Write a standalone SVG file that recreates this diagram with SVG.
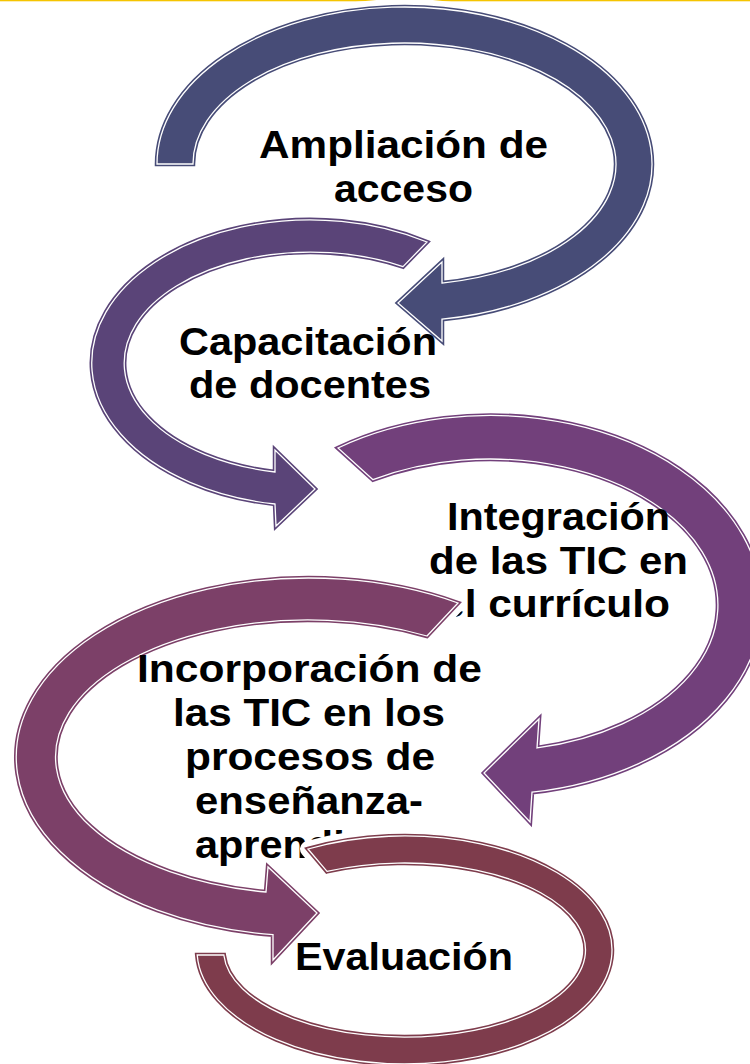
<svg xmlns="http://www.w3.org/2000/svg" xmlns:xlink="http://www.w3.org/1999/xlink" width="750" height="1064" viewBox="0 0 750 1064">
<style>
.t{font-family:"Liberation Sans",Arial,sans-serif;font-weight:bold;font-size:38px;fill:#000}
.h{fill:#fff;stroke:#fff;stroke-width:16;stroke-linejoin:round}
.o{stroke-width:4.5;stroke-linejoin:miter}
.i{stroke:#fff;stroke-width:1.3;stroke-linejoin:miter}
.c1{fill:#474C77;stroke:#474C77}
.c2{fill:#5A4478;stroke:#5A4478}
.c3{fill:#72407B;stroke:#72407B}
.c4{fill:#7C4068;stroke:#7C4068}
.c5{fill:#7E3C4C;stroke:#7E3C4C}
.f1{fill:#474C77}.f2{fill:#5A4478}.f3{fill:#72407B}.f4{fill:#7C4068}.f5{fill:#7E3C4C}
</style>
<defs>
<path id="a1" d="M157,164 A247.5,157 0 1 1 442,319.2 L442,341 L398,303 L442,262 L442,283.1 A211.5,121 0 1 0 193,164 Z"/>
<path id="a2" d="M427,242 A218.5,143 0 1 0 275,504 L276,526 L315,489 L275,450 L275,472 A186.5,111 0 1 1 403,266.6 Z"/>
<path id="a3" d="M338,448 A271.5,189.5 0 1 1 532,792.2 L530,822 L484,773 L539,719 L537,747.9 A228,146 0 1 0 373,479.7 Z"/>
<path id="a4" d="M458,603 A292.7,179 0 1 0 273,934.7 L273,960 L317,913 L268,867 L266,892 A252.7,137 0 1 1 427,636 Z"/>
<path id="a5" d="M308,849 A207.5,114 0 1 1 197.2,955 L223.8,955 A181,87 0 1 0 327,871.4 Z"/>
</defs>
<rect x="0" y="0" width="750" height="1.3" fill="#F5C400"/>
<g id="node1">
<use xlink:href="#a1" class="h"/>
<use xlink:href="#a1" class="o c1"/>
<use xlink:href="#a1" class="i f1"/>
<text class="t" x="259" y="158" textLength="289" lengthAdjust="spacingAndGlyphs">Ampliación de</text>
<text class="t" x="334" y="202" textLength="139" lengthAdjust="spacingAndGlyphs">acceso</text>
</g>
<g id="node2">
<use xlink:href="#a2" class="h"/>
<use xlink:href="#a2" class="o c2"/>
<use xlink:href="#a2" class="i f2"/>
<text class="t" x="179" y="355" textLength="258" lengthAdjust="spacingAndGlyphs">Capacitación</text>
<text class="t" x="189" y="398" textLength="242" lengthAdjust="spacingAndGlyphs">de docentes</text>
</g>
<g id="node3">
<use xlink:href="#a3" class="h"/>
<use xlink:href="#a3" class="o c3"/>
<use xlink:href="#a3" class="i f3"/>
<text class="t" x="447" y="530" textLength="223" lengthAdjust="spacingAndGlyphs">Integración</text>
<text class="t" x="429" y="574" textLength="259" lengthAdjust="spacingAndGlyphs">de las TIC en</text>
<text class="t" x="441" y="617" textLength="229" lengthAdjust="spacingAndGlyphs">el currículo</text>
</g>
<g id="node4">
<use xlink:href="#a4" class="h"/>
<use xlink:href="#a4" class="o c4"/>
<use xlink:href="#a4" class="i f4"/>
<text class="t" x="137" y="682" textLength="345" lengthAdjust="spacingAndGlyphs">Incorporación de</text>
<text class="t" x="173" y="726" textLength="272" lengthAdjust="spacingAndGlyphs">las TIC en los</text>
<text class="t" x="185" y="770" textLength="250" lengthAdjust="spacingAndGlyphs">procesos de</text>
<text class="t" x="195" y="814" textLength="228" lengthAdjust="spacingAndGlyphs">enseñanza-</text>
<text class="t" x="195" y="858" textLength="228" lengthAdjust="spacingAndGlyphs">aprendizaje</text>
</g>
<g id="node5">
<use xlink:href="#a5" class="h"/>
<use xlink:href="#a5" class="o c5"/>
<use xlink:href="#a5" class="i f5"/>
<text class="t" x="295" y="970" textLength="218" lengthAdjust="spacingAndGlyphs">Evaluación</text>
</g>
</svg>
